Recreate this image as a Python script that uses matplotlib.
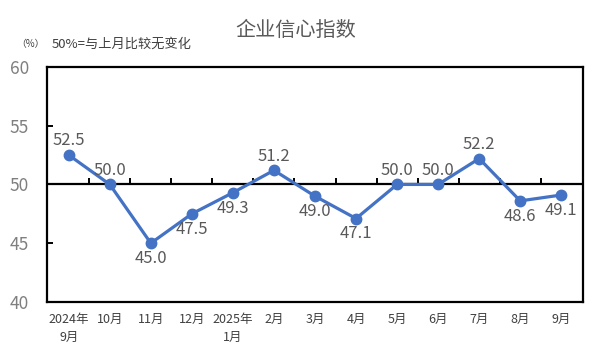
import matplotlib.pyplot as plt

plt.rcParams['font.family'] = ['Noto Sans CJK SC', 'DejaVu Sans']

months = ['2024年\n9月', '10月', '11月', '12月', '2025年\n1月', '2月', '3月',
          '4月', '5月', '6月', '7月', '8月', '9月']
values = [52.5, 50.0, 45.0, 47.5, 49.3, 51.2, 49.0, 47.1, 50.0, 50.0, 52.2, 48.6, 49.1]
# label placement: 1 = above the point, -1 = below
label_side = [1, 1, -1, -1, -1, 1, -1, -1, 1, 1, 1, -1, -1]

fig = plt.figure(figsize=(5.91, 3.54), dpi=100)
ax = fig.add_axes([0.0795, 0.147, 0.907, 0.664])

x = list(range(len(values)))
# the category axis crosses at 50, with small ticks between categories
ax.axhline(50, color='black', lw=1.6, zorder=1)
bounds = [i + 0.5 for i in x[:-1]]
ax.plot(bounds, [50] * len(bounds), ls='none', marker=2, ms=4, mew=1.4,
        color='black', zorder=1)

ax.plot(x, values, color='#4472C4', lw=2.3, marker='o', ms=7.5, zorder=3)
for xi, v, side in zip(x, values, label_side):
    if side > 0:
        ax.annotate(f'{v:.1f}', (xi, v), xytext=(0, 4), textcoords='offset points',
                    ha='center', va='bottom', fontsize=12, color='#595959')
    else:
        ax.annotate(f'{v:.1f}', (xi, v), xytext=(0, -5), textcoords='offset points',
                    ha='center', va='top', fontsize=12, color='#595959')

ax.set_xlim(-0.53, 12.53)
ax.set_ylim(40, 60)
ax.set_yticks([40, 45, 50, 55, 60])
ax.set_xticks(x)
ax.set_xticklabels(months, fontsize=9, color='#404040', linespacing=1.45)
ax.tick_params(axis='y', labelsize=12.5, labelcolor='#7f7f7f', direction='in',
               length=4, width=1.4, pad=13)
ax.tick_params(axis='x', length=0, pad=8)
for s in ax.spines.values():
    s.set_linewidth(1.6)
    s.set_color('black')

fig.text(0.5, 0.915, '企业信心指数', ha='center', va='center', fontsize=14.5,
         color='#595959')
fig.text(0.028, 0.875, '（%）', va='center', fontsize=7, color='#404040')
fig.text(0.088, 0.875, '50%=与上月比较无变化', va='center', fontsize=9.5,
         color='#404040')

fig.savefig('out.png', dpi=100)
